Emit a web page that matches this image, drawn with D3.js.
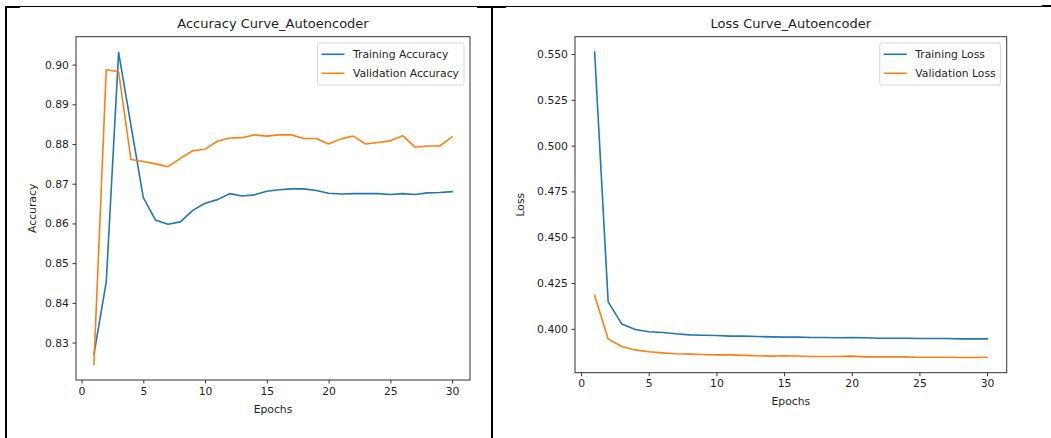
<!DOCTYPE html>
<html>
<head>
<meta charset="utf-8">
<script src="https://cdn.jsdelivr.net/npm/d3@7"></script>
<style>
  body { margin: 0; background: #fff; }
  text { font-family: "DejaVu Sans", sans-serif; fill: #1e1e1e; }
</style>
</head>
<body>
<div id="grafico"></div>
<script>
// Data

const epochs = [1, 2, 3, 4, 5, 6, 7, 8, 9, 10, 11, 12, 13, 14, 15,
  16, 17, 18, 19, 20, 21, 22, 23, 24, 25, 26, 27, 28, 29, 30];

const trainAcc = [0.8270, 0.8453, 0.9031, 0.8847, 0.8665, 0.8608, 0.8598, 0.8604, 0.8633, 0.8651,
  0.8660, 0.8675, 0.8669, 0.8672, 0.8681, 0.8685, 0.8687, 0.8687, 0.8683, 0.8676,
  0.8674, 0.8675, 0.8675, 0.8675, 0.8673, 0.8675, 0.8673, 0.8677, 0.8678, 0.8680];

const valAcc = [0.8245, 0.8987, 0.8982, 0.8761, 0.8756, 0.8750, 0.8743, 0.8764, 0.8783, 0.8787,
  0.8807, 0.8815, 0.8816, 0.8823, 0.8820, 0.8823, 0.8823, 0.8814, 0.8814, 0.8800,
  0.8813, 0.8820, 0.8800, 0.8804, 0.8808, 0.8821, 0.8792, 0.8795, 0.8795, 0.8818];

const trainLoss = [0.5511, 0.4147, 0.4027, 0.3996, 0.3984, 0.3980, 0.3973, 0.3967, 0.3965, 0.3964,
  0.3960, 0.3960, 0.3958, 0.3956, 0.3955, 0.3955, 0.3953, 0.3953, 0.3951, 0.3953,
  0.3951, 0.3949, 0.3949, 0.3949, 0.3947, 0.3947, 0.3947, 0.3945, 0.3945, 0.3945];

const valLoss = [0.4182, 0.3945, 0.3904, 0.3885, 0.3875, 0.3869, 0.3864, 0.3862, 0.3860, 0.3858,
  0.3858, 0.3855, 0.3853, 0.3851, 0.3853, 0.3852, 0.3849, 0.3849, 0.3849, 0.3851,
  0.3847, 0.3847, 0.3847, 0.3847, 0.3845, 0.3845, 0.3845, 0.3844, 0.3844, 0.3845];

const xTicks = [0, 5, 10, 15, 20, 25, 30];
const accTicks = [0.83, 0.84, 0.85, 0.86, 0.87, 0.88, 0.89, 0.90];
const lossTicks = [0.400, 0.425, 0.450, 0.475, 0.500, 0.525, 0.550];

const blue = "#1f77b4", orange = "#ff7f0e";

const svg = d3.select("#grafico")
  .append("svg")
    .attr("width", 1051)
    .attr("height", 438);

// black frame lines around the screenshot
svg.append("rect").attr("x", 5).attr("y", 6).attr("width", 1037).attr("height", 1).attr("fill", "#000");
[[5, 20, 6], [477, 506, 6], [1042, 1051, 5]].forEach(s => {
  svg.append("rect").attr("x", s[0]).attr("y", s[2]).attr("width", s[1] - s[0]).attr("height", 2).attr("fill", "#000");
});
svg.append("rect").attr("x", 5).attr("y", 6).attr("width", 2).attr("height", 432).attr("fill", "#000");
svg.append("rect").attr("x", 491).attr("y", 6).attr("width", 2).attr("height", 432).attr("fill", "#000");

function drawPanel(cfg) {
  const g = svg.append("g");
  const w = cfg.right - cfg.left, h = cfg.bottom - cfg.top;

  const x = d3.scaleLinear().domain([-0.45, 31.45]).range([cfg.left, cfg.right]);

  // matplotlib style 5% margins
  const all = cfg.series[0].values.concat(cfg.series[1].values);
  const ext = d3.extent(all), pad = (ext[1] - ext[0]) * 0.05;
  const y = d3.scaleLinear().domain([ext[0] - pad, ext[1] + pad]).range([cfg.bottom, cfg.top]);

  // x axis
  const gx = g.append("g")
    .attr("transform", `translate(0,${cfg.bottom})`)
    .call(d3.axisBottom(x).tickValues(xTicks).tickSize(3.5).tickPadding(3.5).tickFormat(d3.format("d")));
  gx.select(".domain").remove();
  gx.selectAll("line").attr("stroke", "#333");
  gx.selectAll("text").attr("font-size", "10.8px").attr("font-family", "DejaVu Sans").attr("fill", "#1e1e1e");

  // y axis
  const gy = g.append("g")
    .attr("transform", `translate(${cfg.left},0)`)
    .call(d3.axisLeft(y).tickValues(cfg.yTicks).tickSize(3.5).tickPadding(3.5).tickFormat(d3.format(cfg.fmt)));
  gy.select(".domain").remove();
  gy.selectAll("line").attr("stroke", "#333");
  gy.selectAll("text").attr("font-size", "10.8px").attr("font-family", "DejaVu Sans").attr("fill", "#1e1e1e");

  // lines
  const line = d3.line().x((d, i) => x(epochs[i])).y(d => y(d));
  cfg.series.forEach(s => {
    g.append("path")
      .datum(s.values)
      .attr("d", line)
      .attr("fill", "none")
      .attr("stroke", s.color)
      .attr("stroke-width", 1.6)
      .attr("stroke-linejoin", "round")
      .attr("stroke-linecap", "square");
  });

  // spines
  g.append("rect")
    .attr("x", cfg.left).attr("y", cfg.top)
    .attr("width", w).attr("height", h)
    .attr("fill", "none").attr("stroke", "#333").attr("stroke-width", 1);

  // titles and labels
  g.append("text")
    .attr("x", cfg.left + w / 2).attr("y", cfg.top - 9)
    .attr("text-anchor", "middle").attr("font-size", "13px")
    .text(cfg.title);
  g.append("text")
    .attr("x", cfg.left + w / 2).attr("y", cfg.bottom + cfg.xlabOff)
    .attr("text-anchor", "middle").attr("font-size", "10.8px")
    .text("Epochs");
  g.append("text")
    .attr("transform", `translate(${cfg.ylabX},${cfg.top + h / 2}) rotate(-90)`)
    .attr("text-anchor", "middle").attr("dy", "0.35em").attr("font-size", "10.8px")
    .text(cfg.ylab);

  // legend
  const lg = g.append("g");
  const box = lg.append("rect");
  let maxW = 0;
  cfg.series.forEach((s, i) => {
    const yy = cfg.top + 17.6 + i * 19;
    lg.append("line")
      .attr("x1", 0).attr("x2", 23).attr("y1", yy).attr("y2", yy)
      .attr("stroke", s.color).attr("stroke-width", 1.6);
    const t = lg.append("text")
      .attr("x", 31.5).attr("y", yy).attr("dy", "0.35em")
      .attr("font-size", "10.8px").text(s.name);
    maxW = Math.max(maxW, t.node().getComputedTextLength());
  });
  const boxW = 31.5 + maxW + 5 + 4;
  const bx = cfg.right - 6 - boxW;
  lg.selectAll("line").attr("transform", `translate(${bx + 4},0)`);
  lg.selectAll("text").attr("transform", `translate(${bx + 4},0)`);
  box.attr("x", bx).attr("y", cfg.top + 6.3)
    .attr("width", boxW).attr("height", 42)
    .attr("rx", 2.5)
    .attr("fill", "#fff").attr("fill-opacity", 0.8)
    .attr("stroke", "#d6d6d6").attr("stroke-width", 1);
}

drawPanel({
  left: 76, right: 470, top: 36.7, bottom: 380,
  title: "Accuracy Curve_Autoencoder", ylab: "Accuracy", ylabX: 32.3, xlabOff: 33,
  yTicks: accTicks, fmt: ".2f",
  series: [
    {name: "Training Accuracy", values: trainAcc, color: blue},
    {name: "Validation Accuracy", values: valAcc, color: orange}
  ]
});

drawPanel({
  left: 575, right: 1006.7, top: 36.7, bottom: 372.7,
  title: "Loss Curve_Autoencoder", ylab: "Loss", ylabX: 520, xlabOff: 32,
  yTicks: lossTicks, fmt: ".3f",
  series: [
    {name: "Training Loss", values: trainLoss, color: blue},
    {name: "Validation Loss", values: valLoss, color: orange}
  ]
});
</script>
</body>
</html>
